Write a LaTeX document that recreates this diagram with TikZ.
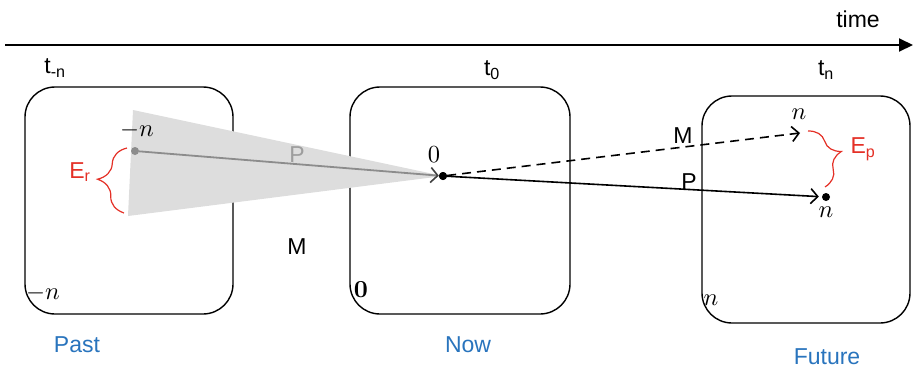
\documentclass[tikz,border=0pt]{standalone}
\usepackage[no-math]{fontspec}
\setmainfont{Liberation Sans}
\usetikzlibrary{arrows.meta,decorations.pathreplacing}
\definecolor{blueT}{RGB}{41,116,189}
\definecolor{redB}{RGB}{228,48,38}
\definecolor{wedgeC}{RGB}{221,221,221}
\definecolor{rayC}{RGB}{140,140,140}
\newcommand{\mathlab}[1]{\scalebox{2.45}{$#1$}}
\begin{document}
\begin{tikzpicture}[x=1pt,y=-1pt,
  lab/.style={font=\fontsize{23}{26}\selectfont, inner sep=0pt},
  mlab/.style={inner sep=0pt},
  box/.style={draw, line width=1.4pt, rounded corners=30pt, inner sep=0pt},
  dotn/.style={circle, fill=black, inner sep=0pt, minimum size=8pt},
  gdotn/.style={circle, fill=rayC, inner sep=0pt, minimum size=8pt},
  barb/.style={-{Straight Barb[length=7pt,width=15pt,line width=1.6pt]}},
  bracered/.style={draw=redB, line width=1.2pt, decorate, decoration={brace, amplitude=#1}},
]
\useasboundingbox (0,0) rectangle (913,370);
% time axis
\coordinate (tl) at (5,45);
\coordinate (tr) at (913,45);
\draw[line width=2pt, -{Triangle[length=14pt,width=13pt]}] (tl) -- (tr);
\node[lab] (time) at (858,19) {time};
% boxes
\node[box, minimum width=208pt, minimum height=227pt] (past) at (129,200.5) {};
\node[box, minimum width=220pt, minimum height=227pt] (nowbox) at (460,200.5) {};
\node[box, minimum width=208pt, minimum height=227pt] (futbox) at (806,209.5) {};
% time labels
\node[lab] (tmn) at (55,68) {t\textsubscript{-n}};
\node[lab] (t0) at (492,70) {t\textsubscript{0}};
\node[lab] (tn) at (826,70) {t\textsubscript{n}};
% wedge
\node[dotn] (now) at (443,176) {};
\coordinate (wtop) at (133,110);
\coordinate (wbot) at (128,216);
\fill[wedgeC] (wtop) -- (wbot) -- (now.center) -- cycle;
\node[gdotn] (gdot) at (135,151) {};
\draw[rayC, line width=1.8pt, -{Straight Barb[length=7pt,width=15pt,line width=1.6pt,color=black!75]}] (gdot) -- (now);
\node[dotn] (now2) at (443,176) {};
% future arrows
\node[dotn] (fut) at (826,197) {};
\coordinate (mend) at (800,133);
\draw[line width=1.6pt, dash pattern=on 9pt off 6pt, barb] (now) -- (mend);
\draw[line width=1.6pt, barb, shorten >=3pt] (now) -- (fut);
% labels
\node[lab, text=rayC!85] (pgray) at (297,155) {P};
\node[lab] (mpast) at (297,247) {M};
\node[lab] (mfut) at (683,136) {M};
\node[lab] (pfut) at (689,182) {P};
\node[mlab] (zero) at (434,155) {\mathlab{0}};
\node[mlab] (zerob) at (361,290) {\mathlab{\mathbf{0}}};
\node[mlab] (ntop) at (799,114) {\mathlab{n}};
\node[mlab] (nbot) at (826,212) {\mathlab{n}};
\node[mlab] (nfl) at (711,300) {\mathlab{n}};
\node[mlab] (mntop) at (137,130) {\mathlab{-n}};
\node[mlab] (mnbot) at (43,293) {\mathlab{-n}};
% braces
\coordinate (b1a) at (124,213);
\coordinate (b1b) at (127,148);
\draw[bracered=28pt] (b1a) -- (b1b);
\node[lab, text=redB] (er) at (80,172) {E\textsubscript{r}};
\coordinate (b2a) at (808,131);
\coordinate (b2b) at (825,187);
\draw[bracered=26pt] (b2a) -- (b2b);
\node[lab, text=redB] (ep) at (863,149) {E\textsubscript{p}};
% captions
\node[lab, text=blueT] (pastl) at (77,345) {Past};
\node[lab, text=blueT] (nowl) at (468,345) {Now};
\node[lab, text=blueT] (futl) at (827,357) {Future};
\end{tikzpicture}
\end{document}
